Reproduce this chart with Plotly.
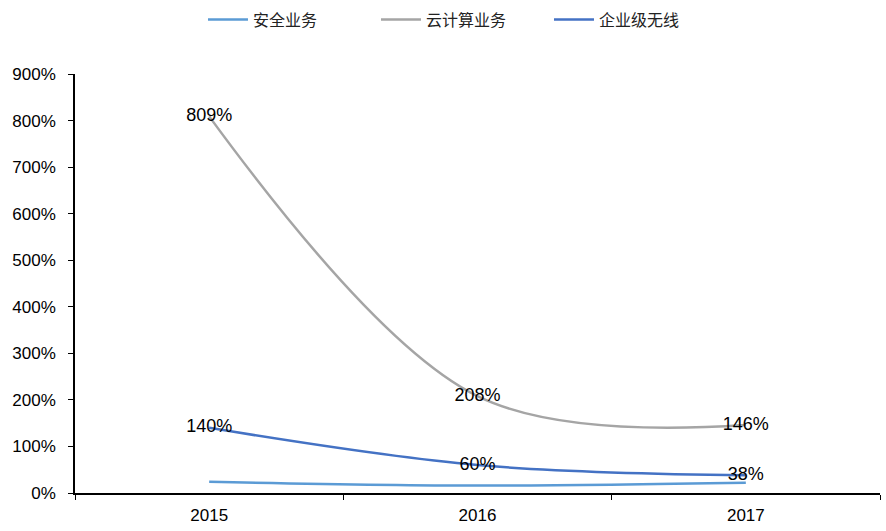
import plotly.graph_objects as go

years = ["2015", "2016", "2017"]
security = [24, 16, 22]        # 安全业务
cloud = [809, 208, 146]        # 云计算业务
wireless = [140, 60, 38]       # 企业级无线

y_ticks = list(range(0, 1000, 100))
y_tick_text = [f"{v}%" for v in y_ticks]

label_font = dict(family="Liberation Sans, Arial", size=18, color="#000000")

fig = go.Figure()
fig.add_trace(go.Scatter(
    x=years, y=security, name="安全业务", mode="lines",
    line=dict(color="#5B9BD5", width=2.5, shape="spline"),
))
fig.add_trace(go.Scatter(
    x=years, y=cloud, name="云计算业务", mode="lines+text",
    line=dict(color="#A5A5A5", width=2.5, shape="spline"),
    text=[f"{v}%" for v in cloud], textposition="middle center",
    textfont=label_font,
))
fig.add_trace(go.Scatter(
    x=years, y=wireless, name="企业级无线", mode="lines+text",
    line=dict(color="#4472C4", width=2.5, shape="spline"),
    text=[f"{v}%" for v in wireless], textposition="middle center",
    textfont=label_font,
))

fig.update_layout(
    width=886, height=531,
    margin=dict(l=75, r=6, t=74, b=33),
    paper_bgcolor="white", plot_bgcolor="white",
    font=dict(family="Liberation Sans, Arial", size=17, color="#000000"),
    showlegend=True,
    legend=dict(
        orientation="h", xref="container", yref="container",
        x=0.522, xanchor="center", y=0.995, yanchor="top",
        font=dict(family="Noto Sans CJK SC", size=16, color="#222222"),
        itemwidth=40, tracegroupgap=0,
        entrywidthmode="pixels", entrywidth=118,
    ),
    xaxis=dict(
        type="category", range=[-0.5, 2.5],
        showline=True, linecolor="#000000", linewidth=1.5,
        ticks="outside", tickson="boundaries", ticklen=5,
        tickcolor="#000000", tickwidth=1.2,
        showgrid=False, zeroline=False, ticklabelstandoff=6,
    ),
    yaxis=dict(
        range=[0, 900], tickvals=y_ticks, ticktext=y_tick_text,
        showline=True, linecolor="#000000", linewidth=1.5,
        ticks="outside", ticklen=5, tickcolor="#000000", tickwidth=1.2,
        showgrid=False, zeroline=False, ticklabelstandoff=9,
    ),
)

fig.write_html("out.html")
